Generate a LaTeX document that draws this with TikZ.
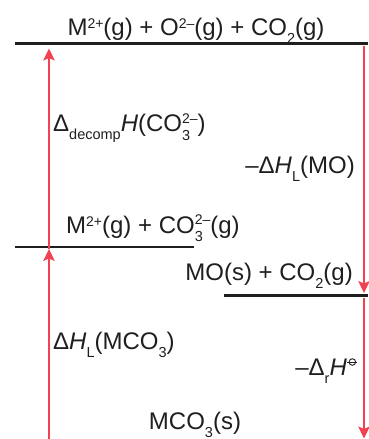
\documentclass[tikz,border=0pt]{standalone}
\usepackage{fontspec}
\setmainfont{Liberation Sans}
\usetikzlibrary{arrows.meta}
\definecolor{arrred}{RGB}{242,66,82}
\definecolor{ink}{RGB}{32,30,30}
\newcommand{\sbs}[1]{\raisebox{-8pt}{\fontsize{14.5}{14.5}\selectfont #1}}
\newcommand{\sps}[1]{\raisebox{7pt}{\fontsize{14}{14}\selectfont #1}}
\newcommand{\sbsp}[2]{\rlap{\raisebox{-8.5pt}{\fontsize{14.5}{14.5}\selectfont #1}}\raisebox{8.5pt}{\fontsize{14}{14}\selectfont #2}}
\newcommand{\plim}{\tikz[baseline=0pt,line width=0.9pt]{\draw (0,13pt) circle (3.3pt); \draw (-5pt,13pt) -- (5pt,13pt);}}
\tikzset{
  level/.style={line width=2.6pt, draw=ink},
  rarrow/.style={draw=arrred, line width=1.2pt, -{Stealth[length=12pt,width=11.5pt,inset=2.5pt]}},
  lbl/.style={inner sep=0pt, font=\fontsize{24}{28}\selectfont, text=ink},
}
\begin{document}
\begin{tikzpicture}[x=1pt,y=-1pt]
\useasboundingbox (0,0) rectangle (368,439);
% levels
\coordinate (L1a) at (15,43.5); \coordinate (L1b) at (368,43.5);
\coordinate (L2a) at (15,247); \coordinate (L2b) at (194,247);
\coordinate (L3a) at (224,295.5); \coordinate (L3b) at (368,295.5);
\draw[level] (L1a) -- (L1b);
\draw[level] (L2a) -- (L2b);
\draw[level] (L3a) -- (L3b);
% arrows
\coordinate (A0) at (49,439); \coordinate (A1) at (49,249); \coordinate (A2) at (49,48.5);
\draw[rarrow] (A0) -- (A1);
\draw[rarrow] (A1) -- (A2);
\coordinate (B0) at (364,45.5); \coordinate (B1) at (364,293);
\coordinate (B2) at (364,297.5); \coordinate (B3) at (364,438.5);
\draw[rarrow] (B0) -- (B1);
\draw[rarrow] (B2) -- (B3);
% labels
\node[lbl, anchor=base] (top) at (196,35) {M\sps{2+}(g) + O\sps{2–}(g) + CO\sbs{2}(g)};
\node[lbl, anchor=base west] (dec) at (53,131.5) {Δ\sbs{decomp}\textit{H}(CO\sbsp{3}{2–})};
\node[lbl, anchor=base east] (lmo) at (355,173) {–Δ\textit{H}\sbs{L}(MO)};
\node[lbl, anchor=base west] (mid) at (66,233) {M\sps{2+}(g) + CO\sbsp{3}{2–}(g)};
\node[lbl, anchor=base east] (mo) at (353,280) {MO(s) + CO\sbs{2}(g)};
\node[lbl, anchor=base west] (lm) at (53,349) {Δ\textit{H}\sbs{L}(MCO\sbs{3})};
\node[lbl, anchor=base east] (rh) at (358,375) {–Δ\sbs{r}\textit{H}\plim};
\node[lbl, anchor=base] (mc) at (195,429) {MCO\sbs{3}(s)};
\end{tikzpicture}
\end{document}
